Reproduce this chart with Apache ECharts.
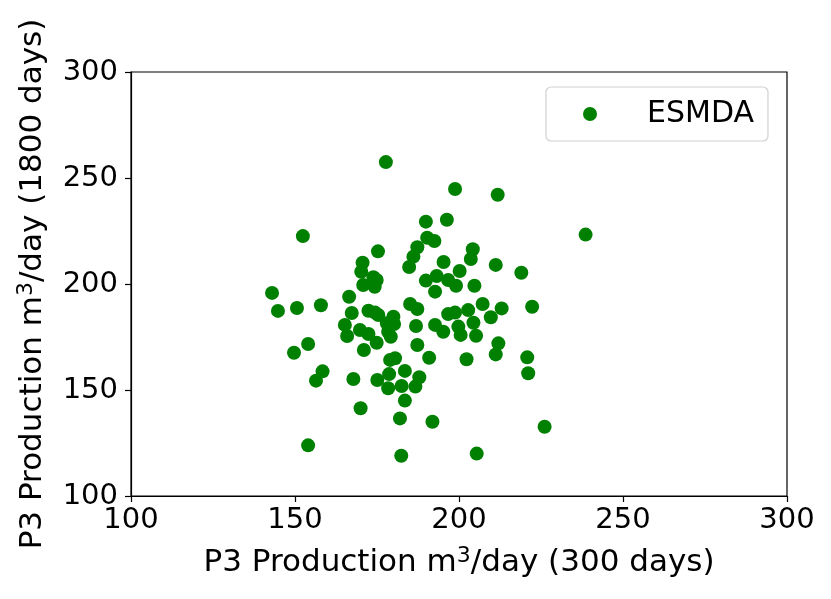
<html>
<head>
  <meta charset='utf-8' />
  <script src="https://cdn.jsdelivr.net/npm/echarts@6/dist/echarts.min.js"></script>
</head>
<body style="margin: 0; background-color: #ffffff">
  <div id="main" style="width: 831px; height: 599px;"></div>
  <script type="text/javascript">
    // P3 production at 300 days vs 1800 days
    var p300 = [152.4, 143, 144.8, 150.6, 157.9, 154, 149.7, 158.4, 156.4, 154,
        177.7, 198.8, 211.8, 189.9, 196.3, 238.6, 190.3, 192.5, 187.3, 186.1,
        184.8, 175.3, 170.6, 170.2, 173.9, 174.9, 170.8, 174.3, 204.2, 203.6,
        195.3, 211.2, 219, 200.2, 189.9, 193.2, 192.7, 196.7, 199.1, 204.7,
        166.5, 167.3, 172.4, 175.4, 180, 185.1, 187.3, 207.2, 213, 222.3,
        196.7, 198.8, 202.8, 209.7, 165.2, 165.9, 169.8, 172.4, 174.9, 171,
        178, 180.2, 178.4, 179.2, 186.9, 187.3, 192.7, 195.2, 199.8, 200.5,
        204.4, 205.2, 212, 211.2, 220.8, 221.1, 190.9, 202.3, 179, 180.5,
        167.8, 175.1, 178.7, 183.5, 187.9, 186.7, 178.4, 182.5, 183.5, 170,
        182, 191.9, 226.1, 182.4, 205.4, 174.4];
    var p1800 = [222.6, 195.8, 187.3, 188.7, 190, 171.7, 167.6, 158.8, 154.4, 123.9,
        257.5, 244.8, 242.1, 229.4, 230.3, 223.3, 221.8, 220.3, 217.3, 212.9,
        208, 215.4, 210, 205.8, 203.2, 201.9, 199.5, 198.7, 216.4, 211.8,
        210.4, 209, 205.3, 206.1, 201.6, 203.8, 196.4, 201.9, 199.2, 199.2,
        194, 186.3, 187.4, 185.4, 184.6, 190.6, 188.2, 190.6, 188.5, 189.3,
        185.8, 186.5, 187.7, 184.3, 180.7, 175.5, 178.3, 176.4, 172.3, 168.9,
        181.5, 181.1, 177.5, 175.1, 180.2, 171.2, 180.7, 177.5, 179.9, 176,
        181.7, 175.6, 172, 166.8, 165.4, 157.9, 165.2, 164.5, 164.2, 165,
        155.2, 154.7, 157.5, 159, 156, 151.6, 150.8, 151.9, 145, 141.4,
        136.6, 135, 132.7, 119, 120, 186.5];
    var seriesName = 'ESMDA';
    var ticks = [100, 150, 200, 250, 300];

    var points = p300.map(function(x, i) { return [x, p1800[i]]; });
    var font = 'DejaVu Sans';

    function axisOpt(name, gap, rot, labelMargin) {
        return {
            type: 'value', min: ticks[0], max: ticks[ticks.length - 1], interval: 50,
            name: name, nameLocation: 'middle', nameGap: gap, nameRotate: rot,
            nameTextStyle: {fontFamily: font, fontSize: 31, color: '#000',
                rich: {sup: {fontFamily: font, fontSize: 22, color: '#000', verticalAlign: 'top', padding: [0, 0, 14, 0]}}},
            axisLine: {show: true, onZero: false, lineStyle: {color: '#000', width: 1.2}},
            axisTick: {show: true, inside: false, length: 6, lineStyle: {color: '#000', width: 1.2}},
            axisLabel: {fontFamily: font, fontSize: 29, color: '#000', margin: labelMargin},
            splitLine: {show: false}
        };
    }

    var myChart = echarts.init(document.getElementById('main'));
    myChart.setOption({
        animation: false,
        grid: {left: 131, right: 44, top: 72, bottom: 103, show: true, borderColor: '#000', borderWidth: 1.2},
        xAxis: axisOpt('P3 Production m{sup|3}/day (300 days)', 49, 0, 10),
        yAxis: axisOpt('P3 Production m{sup|3}/day (1800 days)', 80, 90, 13),
        legend: {
            data: [seriesName], left: 546, top: 87, orient: 'vertical',
            padding: [12, 14, 12, 37], itemWidth: 14, itemHeight: 14,
            borderColor: '#d0d0d0', borderWidth: 1.2, borderRadius: 5,
            textStyle: {fontFamily: font, fontSize: 30, lineHeight: 30, color: '#000', padding: [0, 0, 0, 45]}
        },
        series: [{
            name: seriesName, type: 'scatter', symbol: 'circle', symbolSize: 14,
            itemStyle: {color: '#008000', opacity: 1},
            data: points
        }]
    });
  </script>
</body>
</html>
